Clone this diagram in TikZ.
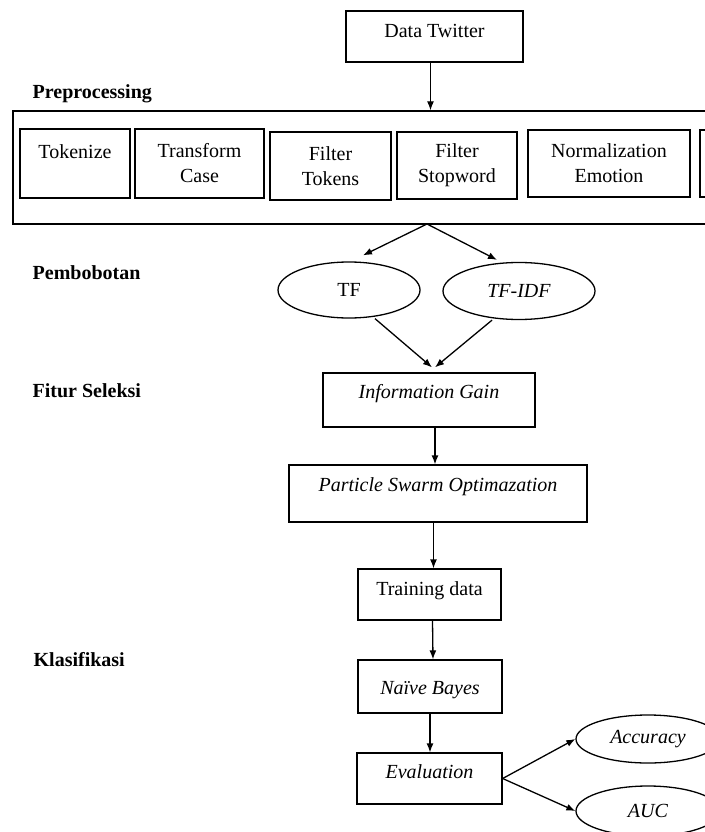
\documentclass[tikz,border=0pt]{standalone}
\usepackage{fontspec}
\setmainfont{Liberation Serif}
\usetikzlibrary{arrows.meta,positioning,shapes.geometric}

\begin{document}
\begin{tikzpicture}[x=1pt, y=-1pt, line width=1.3pt, >={Latex[length=9pt,width=7pt]}]
\tikzstyle{every node} = [font=\fontsize{20}{25}\selectfont, inner sep=0pt]
\tikzstyle{box} = [draw, rectangle, align=center]
\tikzstyle{oval} = [draw, ellipse]
\tikzstyle{stage} = [anchor=base west, font=\fontsize{20}{25}\selectfont\bfseries]
\useasboundingbox (0,0) rectangle (704,832);

% stage headings
\node[stage] (hprep) at (32,99) {Preprocessing};
\node[stage] (hbobot) at (32,279) {Pembobotan};
\node[stage] (hfitur) at (32,397) {Fitur Seleksi};
\node[stage] (hklas) at (33,666) {Klasifikasi};

% input
\node[box, minimum width=177pt, text height=26.6pt, text depth=24.4pt] (dt) at (434.5,36.5) {Data Twitter};

% preprocessing
\node[box, minimum width=747pt, minimum height=113pt] (prep) at (386.5,167.5) {};
\node[box, minimum width=110pt, text height=29.6pt, text depth=39.4pt] (tok) at (75,163.5) {Tokenize};
\node[box, minimum width=129pt, minimum height=69pt] (trans) at (199.5,163.5) {Transform\\Case};
\node[box, minimum width=121pt, minimum height=68pt] (ftok) at (330.5,166) {Filter\\Tokens};
\node[box, minimum width=120pt, minimum height=67pt] (fstop) at (457,165.5) {Filter\\Stopword};
\node[box, minimum width=162pt, minimum height=67pt] (norm) at (609,163.5) {Normalization\\Emotion};
\node[box, minimum width=120pt, minimum height=67pt] (nextstep) at (760,163.5) {};
\draw[->] ([xshift=-4pt]dt.south) -- ([xshift=-4pt]dt.south |- prep.north);

% weighting
\coordinate (split) at (427,224);
\node[oval, minimum width=142pt, minimum height=56pt] (tf) at (349,290) {TF};
\node[oval, minimum width=152pt, minimum height=57pt] (tfidf) at (519,291) {\textit{TF-IDF}};
\draw[->] (split) -- ([xshift=14pt, yshift=6pt]tf.north);
\draw[->] (split) -- ([xshift=-22pt, yshift=2pt]tfidf.north);

% feature selection
\node[box, minimum width=212pt, text height=25.6pt, text depth=28.4pt] (ig) at (429,400) {\textit{Information Gain}};
\draw[->] ([xshift=26pt]tf.south) -- ([xshift=3pt, yshift=5pt]ig.north);
\draw[->] ([xshift=-27pt]tfidf.south) -- ([xshift=6pt, yshift=5pt]ig.north);
\node[box, minimum width=298pt, text height=26.6pt, text depth=30.4pt] (pso) at (438,493.5) {\textit{Particle Swarm Optimazation}};
\draw[->] ([xshift=6pt]ig.south) -- ([xshift=6pt]ig.south |- pso.north);

% classification
\node[box, minimum width=143pt, text height=26.6pt, text depth=24.4pt] (train) at (429.5,594.5) {Training data};
\draw[->] ([xshift=4pt]train.north |- pso.south) -- ([xshift=4pt]train.north);
\node[box, minimum width=144pt, text height=34.6pt, text depth=18.4pt] (nb) at (430,686.5) {\textit{Naïve Bayes}};
\draw[->] ([xshift=3pt]train.south) -- ([xshift=3pt]nb.north);
\node[box, minimum width=145pt, text height=25.6pt, text depth=25.4pt] (eval) at (429.5,778.5) {\textit{Evaluation}};
\draw[->] (nb.south) -- (nb.south |- eval.north);
\node[oval, minimum width=144pt, minimum height=48pt] (acc) at (648,739) {\textit{Accuracy}};
\node[oval, minimum width=144pt, minimum height=50pt] (auc) at (648,811) {\textit{AUC}};
\draw[->] (eval.east) -- (acc.west);
\draw[->] (eval.east) -- (auc.west);
\end{tikzpicture}
\end{document}
